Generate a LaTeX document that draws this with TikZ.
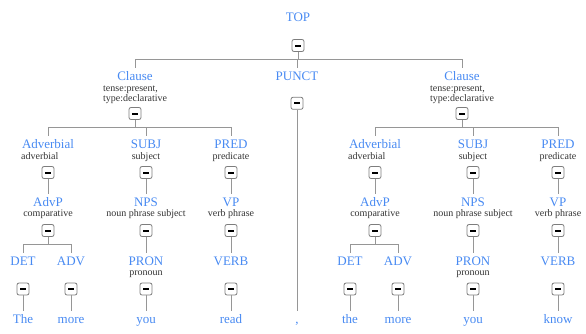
\documentclass[tikz,border=0pt]{standalone}
\usepackage{fontspec}
\setmainfont{Liberation Serif}
\definecolor{lblue}{RGB}{72,138,242}
\definecolor{sgray}{RGB}{51,51,51}
\definecolor{egray}{RGB}{150,150,150}
\definecolor{bgray}{RGB}{125,125,125}
\begin{document}
\begin{tikzpicture}[x=1pt,y=-1pt,
 lbl/.style={text=lblue,font=\fontsize{13}{14}\selectfont,anchor=base,inner xsep=1pt,inner ysep=1pt,text height=11pt},
 sub/.style={text=sgray,font=\fontsize{10}{11}\selectfont,anchor=base,inner sep=0pt},
 subw/.style={sub,anchor=base west},
 tog/.style={draw=bgray,fill=white,rounded corners=2pt,minimum size=12pt,inner sep=0pt,line width=0.8pt},
 conn/.style={draw=egray,line width=1pt}]
\useasboundingbox (0,0) rectangle (586,333);

% top level
\node[lbl] (top) at (298,21) {TOP};
\node[tog] (topb) at (298,45.5) {\rule{5.5pt}{2pt}};
\node[lbl] (punct) at (297,80) {PUNCT};
\node[tog] (punctb) at (297,103.3) {\rule{5.5pt}{2pt}};
\node[lbl] (comma) at (297,323) {,};

\foreach \s/\o/\firstw/\lastw in {L/0/The/read, R/327/the/know}{
  \node[lbl] (cl\s) at (135+\o,80) {Clause};
  \node[subw] (clt\s) at (103+\o,91.5) {tense:present,};
  \node[subw] (cly\s) at (103+\o,101.5) {type:declarative};
  \node[tog] (clb\s) at (135+\o,113.5) {\rule{5.5pt}{2pt}};

  \node[lbl] (adv\s) at (48+\o,148) {Adverbial};
  \node[subw] (advs\s) at (21+\o,159) {adverbial};
  \node[tog] (advb\s) at (48+\o,172.5) {\rule{5.5pt}{2pt}};
  \node[lbl] (subj\s) at (146+\o,148) {SUBJ};
  \node[sub] (subjs\s) at (146+\o,159) {subject};
  \node[tog] (subjb\s) at (146+\o,172.5) {\rule{5.5pt}{2pt}};
  \node[lbl] (pred\s) at (231+\o,148) {PRED};
  \node[sub] (preds\s) at (231+\o,159) {predicate};
  \node[tog] (predb\s) at (231+\o,172.5) {\rule{5.5pt}{2pt}};

  \node[lbl] (advp\s) at (48+\o,206.5) {AdvP};
  \node[sub] (advps\s) at (48+\o,216.5) {comparative};
  \node[tog] (advpb\s) at (48+\o,230.5) {\rule{5.5pt}{2pt}};
  \node[lbl] (nps\s) at (146+\o,206.5) {NPS};
  \node[sub] (npss\s) at (146+\o,216.5) {noun phrase subject};
  \node[tog] (npsb\s) at (146+\o,230.5) {\rule{5.5pt}{2pt}};
  \node[lbl] (vp\s) at (231+\o,206.5) {VP};
  \node[sub] (vps\s) at (231+\o,216.5) {verb phrase};
  \node[tog] (vpb\s) at (231+\o,230.5) {\rule{5.5pt}{2pt}};

  \node[lbl] (det\s) at (23+\o,265) {DET};
  \node[tog] (detb\s) at (23+\o,289) {\rule{5.5pt}{2pt}};
  \node[lbl] (adw\s) at (71+\o,265) {ADV};
  \node[tog] (adwb\s) at (71+\o,289) {\rule{5.5pt}{2pt}};
  \node[lbl] (pron\s) at (146+\o,265) {PRON};
  \node[sub] (prons\s) at (146+\o,275.5) {pronoun};
  \node[tog] (pronb\s) at (146+\o,289) {\rule{5.5pt}{2pt}};
  \node[lbl] (verb\s) at (231+\o,265) {VERB};
  \node[tog] (verbb\s) at (231+\o,289) {\rule{5.5pt}{2pt}};

  \node[lbl] (wa\s) at (23+\o,323) {\firstw};
  \node[lbl] (wb\s) at (71+\o,323) {more};
  \node[lbl] (wc\s) at (146+\o,323) {you};
  \node[lbl] (wd\s) at (231+\o,323) {\lastw};

  \draw[conn] (clb\s.south) -- ++(0,8) -| (adv\s.north);
  \draw[conn] (clb\s.south) -- ++(0,8) -| (subj\s.north);
  \draw[conn] (clb\s.south) -- ++(0,8) -| (pred\s.north);
  \draw[conn] (advb\s.south) -- (advp\s.north);
  \draw[conn] (subjb\s.south) -- (nps\s.north);
  \draw[conn] (predb\s.south) -- (vp\s.north);
  \draw[conn] (advpb\s.south) -- ++(0,8) -| (det\s.north);
  \draw[conn] (advpb\s.south) -- ++(0,8) -| (adw\s.north);
  \draw[conn] (npsb\s.south) -- (pron\s.north);
  \draw[conn] (vpb\s.south) -- (verb\s.north);
  \draw[conn] (detb\s.south) -- (wa\s.north);
  \draw[conn] (adwb\s.south) -- (wb\s.north);
  \draw[conn] (pronb\s.south) -- (wc\s.north);
  \draw[conn] (verbb\s.south) -- (wd\s.north);
}

\draw[conn] (topb.south) -- ++(0,8) -| (clL.north);
\draw[conn] (topb.south) -- ++(0,8) -| (clR.north);
\draw[conn] (topb.south) -- ++(0,8) -| (punct.north);
\draw[conn] (punctb.south) -- (comma.north);
\end{tikzpicture}
\end{document}
